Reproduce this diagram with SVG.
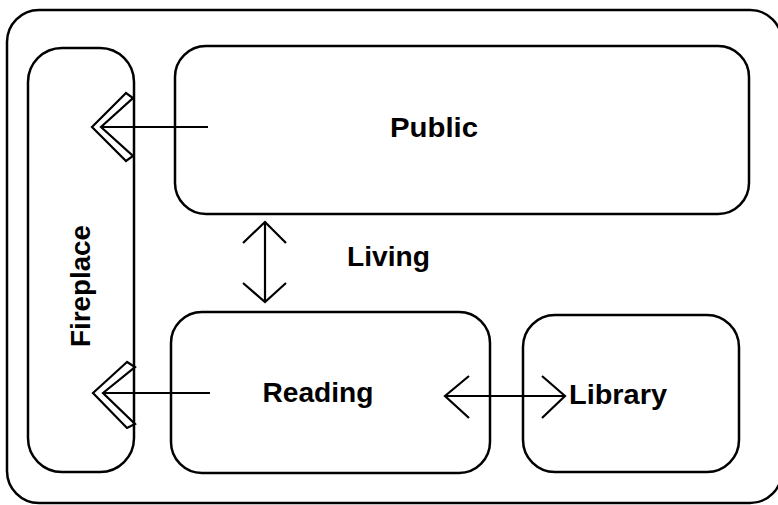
<svg xmlns="http://www.w3.org/2000/svg" width="778" height="505" viewBox="0 0 778 505">
<style>
.box{fill:none;stroke:#000;stroke-width:2.5}
.ln{fill:none;stroke:#000;stroke-width:2.2;stroke-linejoin:miter}
.lbl{font-family:"Liberation Sans",Arial,Helvetica,sans-serif;font-weight:bold;font-size:28px;fill:#000}
</style>
<rect width="778" height="505" fill="#fff"/>
<g id="living">
<rect class="box" x="7" y="10" width="775" height="493" rx="32"/>
<text class="lbl" x="347" y="266" textLength="83" lengthAdjust="spacingAndGlyphs">Living</text>
</g>
<g id="fireplace">
<rect class="box" x="28" y="48" width="106" height="424" rx="34"/>
<text class="lbl" transform="translate(90,286) rotate(-90)" text-anchor="middle" textLength="122" lengthAdjust="spacingAndGlyphs">Fireplace</text>
</g>
<g id="public">
<rect class="box" x="175" y="46" width="574" height="168" rx="31"/>
<text class="lbl" x="434" y="137" text-anchor="middle" textLength="88" lengthAdjust="spacingAndGlyphs">Public</text>
</g>
<g id="reading">
<rect class="box" x="171" y="312" width="319" height="161" rx="31"/>
<text class="lbl" x="318" y="402" text-anchor="middle" textLength="111" lengthAdjust="spacingAndGlyphs">Reading</text>
</g>
<g id="library">
<rect class="box" x="523" y="315" width="216" height="157" rx="32"/>
<text class="lbl" x="569" y="404" textLength="98" lengthAdjust="spacingAndGlyphs">Library</text>
</g>
<g id="connectors">
<line class="ln" x1="101" y1="127" x2="208" y2="127"/>
<polygon class="ln" points="126,93 92,127 126,161 133,156 101,127 133,98"/>
<line class="ln" x1="103" y1="393" x2="210" y2="393"/>
<polygon class="ln" points="127,362 93,393 127,428 135,424 103,393 135,367"/>
<line class="ln" x1="265" y1="222" x2="265" y2="302"/>
<polyline class="ln" points="243,243 265,222 286,243"/>
<polyline class="ln" points="243,283 265,302 286,283"/>
<line class="ln" x1="445" y1="396" x2="565" y2="396"/>
<polyline class="ln" points="469,376 445,396 469,418"/>
<polyline class="ln" points="542,376 565,396 542,418"/>
</g>
</svg>
